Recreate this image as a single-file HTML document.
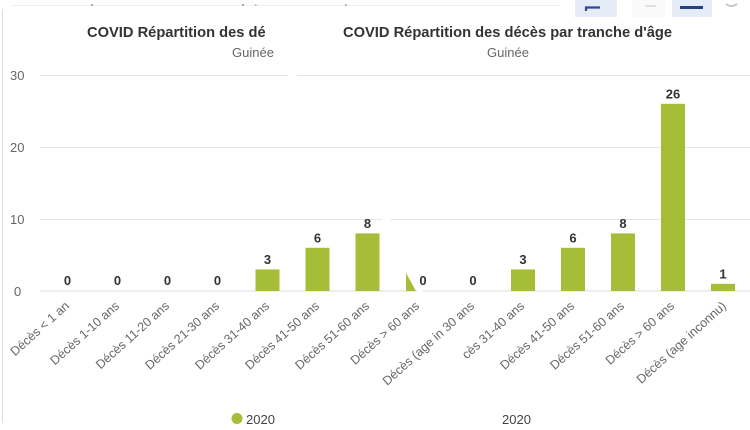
<!DOCTYPE html>
<html><head><meta charset="utf-8"><style>
html,body{margin:0;padding:0;background:#fff;}
svg{display:block;font-family:"Liberation Sans",Arial,sans-serif;}
</style></head><body>
<svg width="750" height="430" viewBox="0 0 750 430" xmlns="http://www.w3.org/2000/svg">
<defs>
<clipPath id="t1"><rect x="0" y="0" width="265" height="60"/></clipPath>
</defs>
<rect width="750" height="430" fill="#fff"/>
<!-- top strip -->
<line x1="12" y1="5.5" x2="560" y2="5.5" stroke="#f0f0f0" stroke-width="1"/>
<rect x="91" y="4" width="2" height="2" fill="#aaa"/>
<rect x="242" y="4" width="2" height="2" fill="#aaa"/>
<rect x="255" y="4" width="1.5" height="2" fill="#bbb"/>
<rect x="345" y="4" width="2" height="2" fill="#bbb"/>
<!-- buttons top right -->
<rect x="575" y="0" width="42" height="17" fill="#e6ecf7"/>
<path d="M586 11 V7.5 H600" stroke="#2b4c8c" stroke-width="2.2" fill="none"/>
<rect x="632" y="0" width="33" height="17" fill="#fafafa"/>
<line x1="645" y1="6" x2="656" y2="6" stroke="#d6d6d6" stroke-width="1.5"/>
<rect x="672" y="0" width="40" height="17" fill="#e6ecf7"/>
<rect x="680" y="6" width="23" height="3" fill="#24427f"/>
<path d="M726 4 Q731 8 737 4" stroke="#c8c8c8" stroke-width="2" fill="none"/>
<!-- left border -->
<line x1="2.5" y1="9" x2="2.5" y2="423" stroke="#dddddd" stroke-width="1"/>
<!-- titles -->
<text x="87" y="37" font-size="14.6" font-weight="bold" fill="#333" clip-path="url(#t1)" textLength="329" lengthAdjust="spacingAndGlyphs">COVID Répartition des décès par tranche d'âge</text>
<text x="232" y="57" font-size="13" fill="#666">Guinée</text>
<text x="343" y="37" font-size="14.6" font-weight="bold" fill="#333" textLength="329" lengthAdjust="spacingAndGlyphs">COVID Répartition des décès par tranche d'âge</text>
<text x="487" y="57" font-size="13" fill="#666">Guinée</text>
<!-- gridlines -->
<g stroke="#e6e6e6" stroke-width="1">
<line x1="40" y1="75.5" x2="288" y2="75.5"/>
<line x1="297" y1="75.5" x2="750" y2="75.5"/>
<line x1="40" y1="147.5" x2="750" y2="147.5"/>
<line x1="40" y1="219.5" x2="382" y2="219.5"/>
<line x1="390" y1="219.5" x2="750" y2="219.5"/>
</g>
<g stroke="#d8dce6" stroke-width="1">
<line x1="40" y1="291" x2="417" y2="291"/>
<line x1="423" y1="291" x2="750" y2="291"/>
</g>
<!-- y labels -->
<g font-size="13" fill="#666">
<text x="10" y="80">30</text>
<text x="10" y="152">20</text>
<text x="10" y="224">10</text>
<text x="14" y="296">0</text>
</g>
<!-- bars -->
<g fill="#a6bd37">
<rect x="255.5" y="269.4" width="24" height="21.6"/>
<rect x="305.5" y="247.8" width="24" height="43.2"/>
<rect x="355.5" y="233.4" width="24" height="57.6"/>
<polygon points="406,273 406,291 416,291"/>
<rect x="511" y="269.4" width="24" height="21.6"/>
<rect x="561" y="247.8" width="24" height="43.2"/>
<rect x="611" y="233.4" width="24" height="57.6"/>
<rect x="661" y="103.8" width="24" height="187.2"/>
<rect x="711" y="283.8" width="24" height="7.2"/>
</g>
<!-- value labels -->
<g font-size="13" font-weight="bold" fill="#333" text-anchor="middle">
<text x="67.5" y="285">0</text>
<text x="117.5" y="285">0</text>
<text x="167.5" y="285">0</text>
<text x="217.5" y="285">0</text>
<text x="267.5" y="264">3</text>
<text x="317.5" y="242.5">6</text>
<text x="367.5" y="228">8</text>
<text x="423" y="285">0</text>
<text x="473" y="285">0</text>
<text x="523" y="264">3</text>
<text x="573" y="242.5">6</text>
<text x="623" y="228">8</text>
<text x="673" y="98.5">26</text>
<text x="723" y="278.5">1</text>
</g>
<!-- x labels -->
<g font-size="12.5" fill="#666" text-anchor="end">
<text transform="translate(70,307) rotate(-42)">Décès &lt; 1 an</text>
<text transform="translate(120,307) rotate(-42)">Décès 1-10 ans</text>
<text transform="translate(170,307) rotate(-42)">Décès 11-20 ans</text>
<text transform="translate(220,307) rotate(-42)">Décès 21-30 ans</text>
<text transform="translate(270,307) rotate(-42)">Décès 31-40 ans</text>
<text transform="translate(320,307) rotate(-42)">Décès 41-50 ans</text>
<text transform="translate(370,307) rotate(-42)">Décès 51-60 ans</text>
<text transform="translate(420,307) rotate(-42)">Décès &gt; 60 ans</text>
<text transform="translate(475,307) rotate(-42)">Décès (age in 30 ans</text>
<text transform="translate(525,307) rotate(-42)">cès 31-40 ans</text>
<text transform="translate(575,307) rotate(-42)">Décès 41-50 ans</text>
<text transform="translate(625,307) rotate(-42)">Décès 51-60 ans</text>
<text transform="translate(675,307) rotate(-42)">Décès &gt; 60 ans</text>
<text transform="translate(727,307) rotate(-42)">Décès (age inconnu)</text>
</g>
<!-- legends -->
<circle cx="237" cy="418.5" r="5.5" fill="#a6bd37"/>
<text x="246" y="424" font-size="13" fill="#444">2020</text>
<text x="502" y="424" font-size="13" fill="#444">2020</text>
</svg>
</body></html>
